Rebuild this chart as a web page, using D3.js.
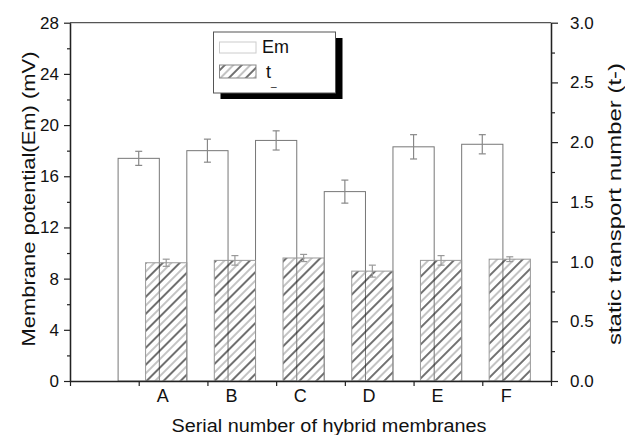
<!DOCTYPE html>
<html lang="en">
<head>
<meta charset="UTF-8">
<title>hybrid membranes</title>
<script src="https://d3js.org/d3.v7.min.js"></script>
<style>
  body { margin: 0; background: #fff; }
  text { font-family: "Liberation Sans", Arial, sans-serif; fill: #111; }
</style>
</head>
<body>
<script>
// values
const membranes = ["A", "B", "C", "D", "E", "F"];
const emValues = [17.4, 18.0, 18.8, 14.8, 18.3, 18.5];   // mV
const emErrors = [0.55, 0.9, 0.75, 0.9, 0.95, 0.75];
const tValues = [0.99, 1.01, 1.03, 0.92, 1.01, 1.02];    // t-
const tErrors = [0.03, 0.04, 0.03, 0.05, 0.04, 0.02];
const emTicks = [0, 4, 8, 12, 16, 20, 24, 28];
const emMinor = [2, 6, 10, 14, 18, 22, 26];
const tTicks = [0.0, 0.5, 1.0, 1.5, 2.0, 2.5, 3.0];
const tMinor = [0.25, 0.75, 1.25, 1.75, 2.25, 2.75];

const W = 625, H = 435;
const plotL = 70, plotR = 551, plotT = 22.7, plotB = 381;

const svg = d3.select("body").append("svg")
    .attr("width", W)
    .attr("height", H);

// hatch used for the t- columns
const defs = svg.append("defs");
const hatch = defs.append("pattern")
    .attr("id", "hatch")
    .attr("patternUnits", "userSpaceOnUse")
    .attr("width", 12)
    .attr("height", 12)
    .attr("patternTransform", "rotate(45)");
hatch.append("line").attr("x1", 1).attr("y1", 0).attr("x2", 1).attr("y2", 12)
    .attr("stroke", "#222").attr("stroke-width", 1.3);
hatch.append("line").attr("x1", 7).attr("y1", 0).attr("x2", 7).attr("y2", 12)
    .attr("stroke", "#888").attr("stroke-width", 1);

// x is a plain numeric axis 0..7, membranes sit at 1..6
const x = d3.scaleLinear().domain([0, 7]).range([plotL, plotR]);
const yEm = d3.scaleLinear().domain([0, 28]).range([plotB, plotT]);
const yT = d3.scaleLinear().domain([0, 3]).range([plotB, plotT]);

// Em columns (outline only)
svg.append("g").selectAll("rect")
    .data(emValues)
    .join("rect")
    .attr("x", (d, i) => x(i + 0.7))
    .attr("y", d => yEm(d))
    .attr("width", x(0.6) - x(0))
    .attr("height", d => yEm(0) - yEm(d))
    .attr("fill", "none")
    .attr("stroke", "#777")
    .attr("stroke-width", 1);

// t- columns, hatched
svg.append("g").selectAll("rect")
    .data(tValues)
    .join("rect")
    .attr("x", (d, i) => x(i + 1.1))
    .attr("y", d => yT(d))
    .attr("width", x(0.6) - x(0))
    .attr("height", d => yT(0) - yT(d))
    .attr("fill", "url(#hatch)")
    .attr("stroke", "#999")
    .attr("stroke-width", 1);

// error bars
function errorBars(vals, errs, yScale, xOff, color) {
    const g = svg.append("g").attr("stroke", color).attr("stroke-width", 1.2);
    vals.forEach((v, i) => {
        const cx = x(i + xOff);
        const y1 = yScale(v + errs[i]), y2 = yScale(v - errs[i]);
        g.append("line").attr("x1", cx).attr("x2", cx).attr("y1", y1).attr("y2", y2);
        g.append("line").attr("x1", cx - 3.5).attr("x2", cx + 3.5).attr("y1", y1).attr("y2", y1);
        g.append("line").attr("x1", cx - 3.5).attr("x2", cx + 3.5).attr("y1", y2).attr("y2", y2);
    });
}
errorBars(emValues, emErrors, yEm, 1, "#888");
errorBars(tValues, tErrors, yT, 1.4, "#999");

// axes
svg.append("g").attr("transform", `translate(${plotL},0)`)
    .call(d3.axisLeft(yEm).tickValues(emTicks).tickSize(6).tickSizeOuter(0).tickPadding(5));
svg.append("g").attr("transform", `translate(${plotL},0)`)
    .call(d3.axisLeft(yEm).tickValues(emMinor).tickSize(3).tickSizeOuter(0).tickFormat(""));

svg.append("g").attr("transform", `translate(${plotR},0)`)
    .call(d3.axisRight(yT).tickValues(tTicks).tickSize(7).tickSizeOuter(0).tickPadding(12)
        .tickFormat(d3.format(".1f")));
svg.append("g").attr("transform", `translate(${plotR},0)`)
    .call(d3.axisRight(yT).tickValues(tMinor).tickSize(4).tickSizeOuter(0).tickFormat(""));

svg.append("g").attr("transform", `translate(0,${plotB})`)
    .call(d3.axisBottom(x).tickValues(d3.range(0, 8)).tickSize(5).tickSizeOuter(0).tickFormat(""));

svg.selectAll(".domain").attr("stroke", "#222").attr("stroke-width", 1.3);
svg.selectAll(".tick line").attr("stroke", "#222").attr("stroke-width", 1.2);
svg.selectAll(".tick text").attr("font-size", 17).style("font-family", "'Liberation Sans', Arial, sans-serif");

// top frame line
svg.append("line")
    .attr("x1", plotL).attr("x2", plotR).attr("y1", plotT).attr("y2", plotT)
    .attr("stroke", "#555").attr("stroke-width", 1.3);

// category labels
svg.append("g").selectAll("text")
    .data(membranes)
    .join("text")
    .attr("x", (d, i) => x(i + 1.35))
    .attr("y", 402)
    .attr("text-anchor", "middle")
    .attr("font-size", 18)
    .text(d => d);

// axis titles
svg.append("text")
    .attr("x", 329).attr("y", 432)
    .attr("text-anchor", "middle")
    .attr("font-size", 17.5)
    .attr("textLength", 315).attr("lengthAdjust", "spacingAndGlyphs")
    .text("Serial number of hybrid membranes");

svg.append("text")
    .attr("transform", "translate(35,199) rotate(-90)")
    .attr("text-anchor", "middle")
    .attr("font-size", 18)
    .attr("textLength", 295).attr("lengthAdjust", "spacingAndGlyphs")
    .text("Membrane potential(Em) (mV)");

svg.append("text")
    .attr("transform", "translate(621,204) rotate(-90)")
    .attr("text-anchor", "middle")
    .attr("font-size", 18)
    .attr("textLength", 282).attr("lengthAdjust", "spacingAndGlyphs")
    .text("static transport number (t-)");

// legend with drop shadow
const lg = svg.append("g");
lg.append("rect").attr("x", 220.5).attr("y", 38).attr("width", 122).attr("height", 61).attr("fill", "#000");
lg.append("rect").attr("x", 213.5).attr("y", 32).attr("width", 122).attr("height", 61)
    .attr("fill", "#fff").attr("stroke", "#555").attr("stroke-width", 1);
lg.append("rect").attr("x", 219.5).attr("y", 42).attr("width", 36.5).attr("height", 11)
    .attr("fill", "none").attr("stroke", "#ccc").attr("stroke-width", 1);
lg.append("text").attr("x", 262).attr("y", 53).attr("font-size", 18).text("Em");
lg.append("rect").attr("x", 219.5).attr("y", 65).attr("width", 36.5).attr("height", 13)
    .attr("fill", "url(#hatch)").attr("stroke", "#888").attr("stroke-width", 1);
const tl = lg.append("text").attr("x", 266).attr("y", 78).attr("font-size", 18);
tl.append("tspan").text("t");
tl.append("tspan").attr("dy", 8).attr("font-size", 10).text("_");
</script>
</body>
</html>
